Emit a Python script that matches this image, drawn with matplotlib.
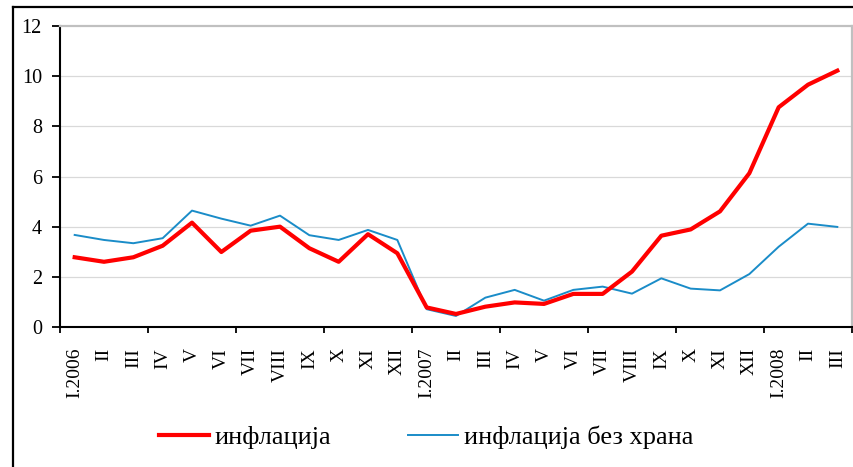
import matplotlib
matplotlib.use("Agg")
import matplotlib.pyplot as plt
from matplotlib.lines import Line2D
import numpy as np

plt.rcParams['font.family'] = ['Liberation Serif', 'DejaVu Serif']

months = ["I.2006", "II", "III", "IV", "V", "VI", "VII", "VIII", "IX", "X", "XI", "XII",
          "I.2007", "II", "III", "IV", "V", "VI", "VII", "VIII", "IX", "X", "XI", "XII",
          "I.2008", "II", "III"]

inflation = [2.78, 2.60, 2.78, 3.24, 4.16, 2.99, 3.84, 4.00, 3.14, 2.60, 3.70, 2.94,
             0.78, 0.52, 0.81, 0.98, 0.92, 1.32, 1.32, 2.21, 3.64, 3.89, 4.61, 6.13,
             8.76, 9.66, 10.22]

inflation_ex_food = [3.67, 3.47, 3.34, 3.54, 4.64, 4.32, 4.04, 4.44, 3.66, 3.47, 3.87, 3.47,
                     0.71, 0.44, 1.17, 1.48, 1.05, 1.48, 1.61, 1.33, 1.94, 1.53, 1.46, 2.11,
                     3.20, 4.12, 3.99]

series_names = ["инфлација", "инфлација без храна"]
y_ticks = [0, 2, 4, 6, 8, 10, 12]

W, H = 854, 467
fig = plt.figure(figsize=(W / 100, H / 100), dpi=100)
ax = fig.add_axes([60 / W, 1 - 327 / H, (852 - 60) / W, (327 - 26) / H])

x = np.arange(len(months))
ax.plot(x, inflation, color="#ff0000", lw=3.0, label=series_names[0], zorder=4)
ax.plot(x, inflation_ex_food, color="#1a8cc8", lw=1.4, label=series_names[1], zorder=3)

ax.set_xlim(-0.5, len(months) - 0.5)
ax.set_ylim(0, 12)
ax.set_yticks(y_ticks)
ax.set_yticklabels([str(v) for v in y_ticks])

# category boundaries every quarter carry the tick marks; labels sit at centres
ax.set_xticks(np.arange(-0.5, len(months), 3))
ax.set_xticklabels([])
ax.set_xticks(x, minor=True)
ax.set_xticklabels(months, minor=True, rotation=90, fontsize=14)
ax.tick_params(axis="x", which="major", direction="out", length=4, width=1.3, color="black")
ax.tick_params(axis="x", which="minor", length=0, pad=15)
ax.tick_params(axis="y", direction="out", length=6, width=1.3, pad=7, labelsize=14.5)

for v in y_ticks[1:-1]:
    ax.axhline(v, color="#d9d9d9", lw=0.9, zorder=1)

ax.spines["left"].set_color("black")
ax.spines["left"].set_linewidth(1.5)
ax.spines["bottom"].set_color("black")
ax.spines["bottom"].set_linewidth(1.5)
ax.spines["top"].set_color("#c0c0c0")
ax.spines["top"].set_linewidth(1.6)
ax.spines["right"].set_color("#c0c0c0")
ax.spines["right"].set_linewidth(1.6)

fig.legend(loc="center", bbox_to_anchor=(426 / W, 1 - 437 / H), ncol=2, frameon=False,
           fontsize=19, handlelength=1.9, handletextpad=0.23, columnspacing=2.9)

# outer frame (left and top edges)
fig.add_artist(Line2D([13 / W, 13 / W], [0, 1 - 7 / H], color="black", lw=1.6,
                      transform=fig.transFigure))
fig.add_artist(Line2D([13 / W, 1], [1 - 7 / H, 1 - 7 / H], color="black", lw=1.6,
                      transform=fig.transFigure))

fig.savefig("out.png", dpi=100)
